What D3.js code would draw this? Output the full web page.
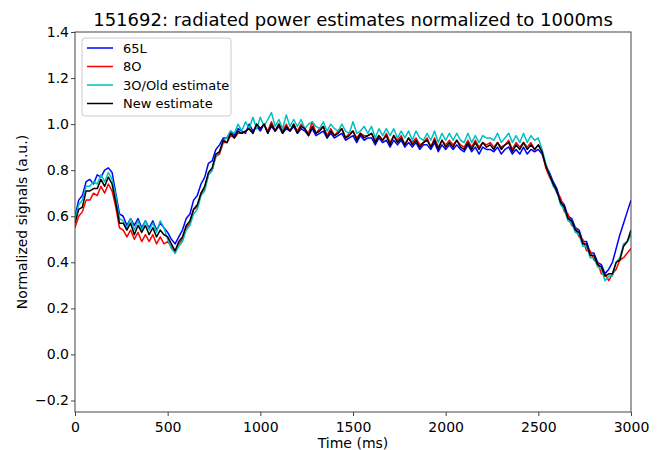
<!DOCTYPE html>
<html>
<head>
<meta charset="utf-8">
<script src="https://cdn.jsdelivr.net/npm/d3@7"></script>
<style>
	body { margin: 0; background: #fff; }
	svg text { font-family: "DejaVu Sans", sans-serif; fill: #000; }
	.axis path, .axis line { stroke: #444; }
</style>
</head>
<body>
<svg id="chart" width="661" height="450"></svg>
<script>
const WIDTH = 661;
const HEIGHT = 450;
const margin = { top: 32, right: 30, bottom: 38, left: 75 };

// sample times: one reading every 20 ms from 0 to 3000
const TIME_STEP = 20;

const seriesNames = ["65L", "8O", "3O/Old estimate", "New estimate"];
const seriesColors = ["#0000ff", "#ff0000", "#00bfbf", "#000000"];

const xTicks = [0, 500, 1000, 1500, 2000, 2500, 3000];
const yTicks = [-0.2, 0.0, 0.2, 0.4, 0.6, 0.8, 1.0, 1.2, 1.4];

// values, 10 per row (200 ms per row)
const signal65L = [
	0.60, 0.67, 0.69, 0.75, 0.76, 0.74, 0.78, 0.77, 0.80, 0.81,
	0.79, 0.70, 0.61, 0.60, 0.56, 0.59, 0.56, 0.59, 0.55, 0.58,
	0.55, 0.58, 0.54, 0.57, 0.55, 0.53, 0.50, 0.48, 0.51, 0.54,
	0.59, 0.61, 0.67, 0.69, 0.74, 0.77, 0.83, 0.84, 0.89, 0.91,
	0.94, 0.94, 0.97, 0.95, 0.98, 0.97, 0.96, 1.00, 0.97, 0.99,
	0.97, 1.00, 0.96, 0.99, 0.97, 0.99, 0.96, 0.98, 0.97, 0.99,
	0.96, 0.98, 0.97, 0.95, 0.98, 0.95, 0.96, 0.97, 0.94, 0.96,
	0.94, 0.95, 0.96, 0.93, 0.94, 0.95, 0.92, 0.95, 0.93, 0.94,
	0.94, 0.91, 0.94, 0.92, 0.93, 0.90, 0.93, 0.91, 0.93, 0.90,
	0.92, 0.90, 0.92, 0.89, 0.91, 0.91, 0.89, 0.92, 0.88, 0.91,
	0.89, 0.91, 0.89, 0.91, 0.89, 0.88, 0.91, 0.88, 0.90, 0.87,
	0.90, 0.89, 0.89, 0.88, 0.90, 0.87, 0.89, 0.90, 0.87, 0.89,
	0.87, 0.90, 0.87, 0.89, 0.88, 0.89, 0.87, 0.82, 0.79, 0.75,
	0.72, 0.67, 0.65, 0.60, 0.59, 0.55, 0.54, 0.49, 0.49, 0.44,
	0.44, 0.40, 0.39, 0.35, 0.37, 0.40, 0.46, 0.52, 0.57, 0.62,
	0.67,
];

const signal8O = [
	0.55, 0.60, 0.62, 0.67, 0.67, 0.70, 0.69, 0.73, 0.70, 0.74,
	0.71, 0.64, 0.55, 0.54, 0.51, 0.54, 0.50, 0.53, 0.49, 0.52,
	0.49, 0.52, 0.48, 0.51, 0.48, 0.49, 0.47, 0.44, 0.48, 0.50,
	0.55, 0.57, 0.63, 0.64, 0.70, 0.72, 0.78, 0.80, 0.86, 0.87,
	0.92, 0.92, 0.95, 0.94, 0.96, 0.96, 0.97, 0.98, 0.96, 1.00,
	0.98, 1.00, 0.97, 1.01, 0.97, 1.00, 0.97, 1.00, 0.97, 1.00,
	0.97, 1.00, 0.98, 0.96, 1.01, 0.96, 0.98, 0.99, 0.95, 0.98,
	0.95, 0.97, 0.98, 0.94, 0.96, 0.97, 0.94, 0.96, 0.95, 0.95,
	0.96, 0.93, 0.95, 0.93, 0.96, 0.92, 0.95, 0.93, 0.95, 0.91,
	0.94, 0.92, 0.94, 0.91, 0.92, 0.94, 0.90, 0.94, 0.90, 0.93,
	0.91, 0.93, 0.91, 0.93, 0.91, 0.90, 0.93, 0.90, 0.93, 0.90,
	0.92, 0.91, 0.92, 0.90, 0.92, 0.90, 0.91, 0.93, 0.89, 0.92,
	0.90, 0.92, 0.90, 0.92, 0.89, 0.91, 0.88, 0.81, 0.77, 0.74,
	0.70, 0.68, 0.62, 0.61, 0.56, 0.55, 0.51, 0.50, 0.45, 0.45,
	0.41, 0.40, 0.35, 0.35, 0.32, 0.35, 0.37, 0.41, 0.42, 0.44,
	0.46,
];

const signal3O = [
	0.59, 0.65, 0.67, 0.73, 0.73, 0.75, 0.74, 0.78, 0.75, 0.79,
	0.76, 0.69, 0.59, 0.58, 0.55, 0.59, 0.54, 0.58, 0.54, 0.58,
	0.54, 0.57, 0.53, 0.58, 0.55, 0.50, 0.46, 0.44, 0.47, 0.49,
	0.54, 0.56, 0.61, 0.63, 0.69, 0.71, 0.78, 0.80, 0.86, 0.88,
	0.93, 0.94, 0.97, 0.96, 1.00, 0.97, 1.01, 0.98, 1.03, 0.98,
	1.03, 0.99, 1.02, 1.05, 0.99, 1.02, 0.98, 1.04, 0.99, 1.02,
	0.99, 1.02, 0.98, 1.00, 1.01, 0.99, 0.98, 1.01, 0.97, 1.00,
	0.98, 0.97, 1.00, 0.97, 0.96, 1.01, 0.96, 0.97, 0.99, 0.96,
	0.99, 0.94, 0.98, 0.95, 0.98, 0.95, 0.98, 0.94, 0.97, 0.94,
	0.97, 0.93, 0.97, 0.94, 0.93, 0.96, 0.93, 0.97, 0.92, 0.96,
	0.93, 0.96, 0.93, 0.96, 0.93, 0.92, 0.96, 0.92, 0.95, 0.92,
	0.95, 0.94, 0.94, 0.93, 0.96, 0.92, 0.94, 0.96, 0.92, 0.95,
	0.92, 0.96, 0.92, 0.95, 0.93, 0.94, 0.89, 0.83, 0.78, 0.73,
	0.71, 0.65, 0.63, 0.58, 0.57, 0.53, 0.52, 0.47, 0.47, 0.42,
	0.42, 0.38, 0.37, 0.32, 0.34, 0.34, 0.40, 0.42, 0.48, 0.49,
	0.52,
];

const signalNew = [
	0.57, 0.63, 0.64, 0.71, 0.71, 0.72, 0.72, 0.76, 0.73, 0.77,
	0.74, 0.66, 0.57, 0.57, 0.54, 0.57, 0.52, 0.56, 0.53, 0.56,
	0.52, 0.55, 0.51, 0.54, 0.52, 0.51, 0.48, 0.45, 0.49, 0.51,
	0.56, 0.58, 0.63, 0.65, 0.70, 0.73, 0.79, 0.81, 0.87, 0.88,
	0.93, 0.92, 0.96, 0.94, 0.97, 0.96, 0.97, 0.98, 0.96, 1.00,
	0.98, 1.00, 0.96, 1.00, 0.97, 1.00, 0.96, 0.99, 0.97, 1.00,
	0.96, 0.99, 0.98, 0.95, 0.99, 0.96, 0.97, 0.99, 0.94, 0.97,
	0.95, 0.96, 0.98, 0.94, 0.95, 0.97, 0.93, 0.96, 0.94, 0.95,
	0.96, 0.92, 0.95, 0.93, 0.95, 0.91, 0.95, 0.92, 0.94, 0.91,
	0.94, 0.91, 0.93, 0.90, 0.92, 0.93, 0.90, 0.93, 0.89, 0.93,
	0.90, 0.92, 0.90, 0.93, 0.90, 0.89, 0.92, 0.89, 0.92, 0.89,
	0.92, 0.90, 0.91, 0.89, 0.92, 0.89, 0.91, 0.92, 0.88, 0.91,
	0.89, 0.92, 0.89, 0.91, 0.89, 0.91, 0.88, 0.82, 0.78, 0.74,
	0.71, 0.66, 0.64, 0.59, 0.58, 0.54, 0.53, 0.48, 0.48, 0.43,
	0.43, 0.39, 0.38, 0.34, 0.35, 0.35, 0.40, 0.41, 0.47, 0.49,
	0.54,
];

const allSignals = [signal65L, signal8O, signal3O, signalNew];

const svg = d3.select("#chart");

const xScale = d3.scaleLinear([0, 3000], [margin.left, WIDTH - margin.right]);
const yScale = d3.scaleLinear([-0.25, 1.4], [HEIGHT - margin.bottom, margin.top]);

const line = d3
	.line()
	.x((d, i) => xScale(i * TIME_STEP))
	.y(d => yScale(d));

// data lines, clipped to the axes box
svg.append("clipPath")
	.attr("id", "plot-area")
	.append("rect")
	.attr("x", margin.left)
	.attr("y", margin.top)
	.attr("width", WIDTH - margin.left - margin.right)
	.attr("height", HEIGHT - margin.top - margin.bottom);

svg.append("g")
	.attr("clip-path", "url(#plot-area)")
	.selectAll(".signal")
	.data(allSignals)
	.join("path")
	.classed("signal", true)
	.attr("fill", "none")
	.attr("stroke", (d, i) => seriesColors[i])
	.attr("stroke-width", 1.5)
	.attr("stroke-linejoin", "round")
	.attr("d", line);

// axes
const xAxis = svg
	.append("g")
	.classed("axis", true)
	.attr("transform", `translate(0,${HEIGHT - margin.bottom})`)
	.call(d3.axisBottom(xScale).tickValues(xTicks).tickFormat(d3.format("d")).tickSizeOuter(0).tickSize(4));

const yAxis = svg
	.append("g")
	.classed("axis", true)
	.attr("transform", `translate(${margin.left},0)`)
	.call(
		d3
			.axisLeft(yScale)
			.tickValues(yTicks)
			.tickFormat(d => d3.format(".1f")(d).replace("-", "\u2212"))
			.tickSizeOuter(0)
			.tickSize(4),
	);

svg.selectAll(".axis .domain").remove();
svg.selectAll(".axis text").attr("font-size", 14).attr("fill", "#000");
xAxis.selectAll("text").attr("dy", "0.9em");
yAxis.selectAll("text").attr("x", -6);

// axes frame
svg.append("rect")
	.attr("x", margin.left)
	.attr("y", margin.top)
	.attr("width", WIDTH - margin.left - margin.right)
	.attr("height", HEIGHT - margin.top - margin.bottom)
	.attr("fill", "none")
	.attr("stroke", "#444")
	.attr("stroke-width", 1);

// title and axis labels
const plotMidX = (margin.left + WIDTH - margin.right) / 2;
const plotMidY = (margin.top + HEIGHT - margin.bottom) / 2;

svg.append("text")
	.attr("x", plotMidX)
	.attr("y", 26)
	.attr("text-anchor", "middle")
	.attr("font-size", 18)
	.text("151692: radiated power estimates normalized to 1000ms");

svg.append("text")
	.attr("x", plotMidX)
	.attr("y", 448)
	.attr("text-anchor", "middle")
	.attr("font-size", 14)
	.text("Time (ms)");

svg.append("text")
	.attr("transform", `translate(27,${plotMidY}) rotate(-90)`)
	.attr("text-anchor", "middle")
	.attr("font-size", 14)
	.text("Normalized signals (a.u.)");

// legend
const legend = svg.append("g").attr("transform", "translate(82,38)");

legend
	.append("rect")
	.attr("width", 149)
	.attr("height", 78)
	.attr("rx", 3)
	.attr("fill", "#fff")
	.attr("fill-opacity", 0.8)
	.attr("stroke", "#ccc");

const legendRows = legend
	.selectAll(".legend-row")
	.data(seriesNames)
	.join("g")
	.classed("legend-row", true)
	.attr("transform", (d, i) => `translate(0,${10 + i * 18.5})`);

legendRows
	.append("line")
	.attr("x1", 5)
	.attr("x2", 31)
	.attr("stroke", (d, i) => seriesColors[i])
	.attr("stroke-width", 1.5);

legendRows
	.append("text")
	.attr("x", 41)
	.attr("dy", "0.35em")
	.attr("font-size", 13)
	.text(d => d);
</script>
</body>
</html>
